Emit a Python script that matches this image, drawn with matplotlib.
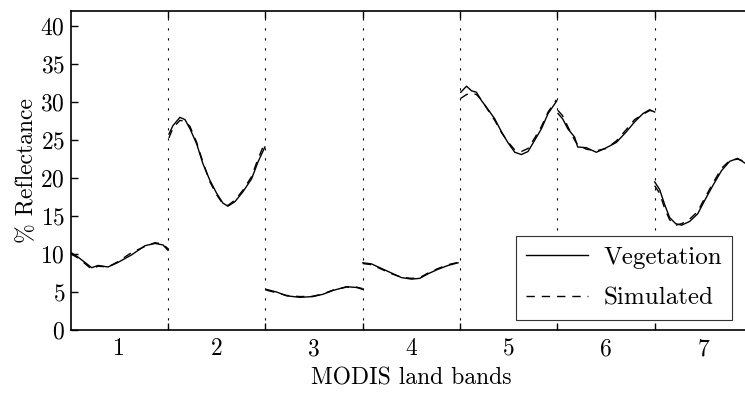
import numpy as np
import matplotlib
matplotlib.use("Agg")
import matplotlib.pyplot as plt

plt.rcParams['font.family'] = ['cmr10', 'DejaVu Serif']
plt.rcParams['mathtext.fontset'] = 'cm'
plt.rcParams['axes.formatter.use_mathtext'] = True

# x positions (band index units) and reflectance (%), one array per band
x_b1 = [0.504, 0.576, 0.717, 0.781, 0.884, 0.987, 1.127, 1.264, 1.367, 1.449, 1.5]
veg_b1 = [10.2, 9.6, 8.2, 8.5, 8.3, 8.9, 9.9, 11.1, 11.4, 11.2, 10.5]
sim_b1 = [10.0, 9.5, 8.0, 8.4, 8.3, 9.0, 10.2, 11.0, 11.5, 11.3, 10.7]

x_b2 = [1.51, 1.551, 1.623, 1.675, 1.726, 1.795, 1.859, 1.931, 2.0, 2.065, 2.116, 2.188, 2.27, 2.359, 2.424, 2.496]
veg_b2 = [25.8, 26.9, 28.0, 27.7, 26.5, 24.5, 21.9, 19.7, 18.0, 16.7, 16.3, 16.9, 18.2, 19.9, 22.1, 24.1]
sim_b2 = [25.3, 26.6, 27.6, 27.5, 26.8, 24.7, 22.1, 19.5, 17.8, 16.6, 16.4, 17.1, 18.4, 20.2, 22.5, 24.7]

x_b3 = [2.51, 2.616, 2.719, 2.855, 2.989, 3.091, 3.194, 3.335, 3.437, 3.499]
veg_b3 = [5.35, 5.0, 4.5, 4.3, 4.4, 4.7, 5.2, 5.7, 5.6, 5.35]
sim_b3 = [5.25, 4.9, 4.55, 4.4, 4.45, 4.75, 5.25, 5.65, 5.65, 5.45]

x_b4 = [3.502, 3.591, 3.694, 3.797, 3.899, 4.002, 4.087, 4.172, 4.275, 4.378, 4.48]
veg_b4 = [8.85, 8.7, 8.1, 7.5, 6.9, 6.7, 6.8, 7.4, 8.0, 8.5, 8.85]
sim_b4 = [8.75, 8.6, 8.0, 7.4, 6.95, 6.8, 6.9, 7.5, 8.1, 8.6, 8.9]

x_b5 = [4.508, 4.567, 4.618, 4.669, 4.721, 4.785, 4.857, 4.926, 4.991, 5.063, 5.131, 5.199, 5.268, 5.337, 5.405, 5.491]
veg_b5 = [31.3, 32.1, 31.5, 31.3, 30.2, 29.1, 27.8, 26.1, 24.7, 23.4, 23.1, 23.5, 25.0, 26.5, 28.5, 30.1]
sim_b5 = [30.5, 31.0, 31.2, 31.0, 30.3, 29.0, 27.6, 26.0, 24.8, 23.7, 23.5, 23.9, 25.3, 26.8, 28.7, 30.3]

x_b6 = [5.507, 5.555, 5.607, 5.678, 5.709, 5.799, 5.901, 6.004, 6.107, 6.209, 6.294, 6.38, 6.449, 6.5]
veg_b6 = [28.5, 27.8, 26.5, 25.4, 24.1, 24.0, 23.4, 24.0, 24.7, 26.1, 27.4, 28.5, 29.0, 28.7]
sim_b6 = [28.9, 28.2, 26.8, 25.0, 24.4, 23.8, 23.6, 23.9, 24.9, 26.4, 27.7, 28.4, 28.9, 28.8]

x_b7 = [6.5, 6.551, 6.603, 6.654, 6.716, 6.777, 6.86, 6.942, 7.024, 7.106, 7.188, 7.27, 7.352, 7.424, 7.496]
veg_b7 = [19.5, 18.5, 16.5, 14.8, 14.0, 13.8, 14.3, 15.3, 17.3, 19.2, 21.0, 22.2, 22.6, 22.0, 21.5]
sim_b7 = [19.0, 18.0, 16.0, 14.5, 13.8, 14.0, 14.6, 15.6, 17.6, 19.5, 21.3, 22.3, 22.5, 22.2, 21.7]

band_x = [x_b1, x_b2, x_b3, x_b4, x_b5, x_b6, x_b7]
band_veg = [veg_b1, veg_b2, veg_b3, veg_b4, veg_b5, veg_b6, veg_b7]
band_sim = [sim_b1, sim_b2, sim_b3, sim_b4, sim_b5, sim_b6, sim_b7]
band_labels = ['1', '2', '3', '4', '5', '6', '7']
band_edges = [1.5, 2.5, 3.5, 4.5, 5.5, 6.5]

fig = plt.figure(figsize=(7.45, 3.93), dpi=100)
ax = fig.add_axes([0.0948, 0.1603, 0.9146, 0.8117])

for i in range(len(band_x)):
    ax.plot(band_x[i], band_veg[i], color='black', lw=1.0,
            label='Vegetation' if i == 0 else None)
    ax.plot(band_x[i], band_sim[i], color='black', lw=1.0, ls=(0, (6, 5)),
            label='Simulated' if i == 0 else None)

ax.set_xlim(0.5, 7.5)
ax.set_ylim(0, 42)
ax.set_yticks(np.arange(0, 41, 5))

# band separators as major ticks + dotted grid, labels on minor ticks
ax.set_xticks(band_edges)
ax.set_xticklabels([])
ax.set_xticks(np.arange(1, 8), minor=True)
ax.set_xticklabels(band_labels, minor=True)
ax.grid(True, axis='x', which='major', color='black', lw=0.8, ls=(0, (2, 7)))

ax.tick_params(which='major', direction='in', length=5, width=1.0,
               top=True, right=True, labelsize=17)
ax.tick_params(which='minor', length=0, labelsize=17, pad=6)
ax.tick_params(axis='y', pad=4)
for s in ax.spines.values():
    s.set_linewidth(1.2)

ax.set_xlabel('MODIS land bands', fontsize=17, labelpad=5)
ax.set_ylabel('% Reflectance', fontsize=17, labelpad=2)

leg = ax.legend(loc='lower right', bbox_to_anchor=(0.9826, 0.1858),
                bbox_transform=fig.transFigure, borderaxespad=0,
                fontsize=18, fancybox=False, framealpha=1,
                edgecolor='#333333', handlelength=2.5, labelspacing=0.75,
                borderpad=0.4, handletextpad=0.6)
leg.get_frame().set_linewidth(0.8)

fig.savefig('out.png', dpi=100)
